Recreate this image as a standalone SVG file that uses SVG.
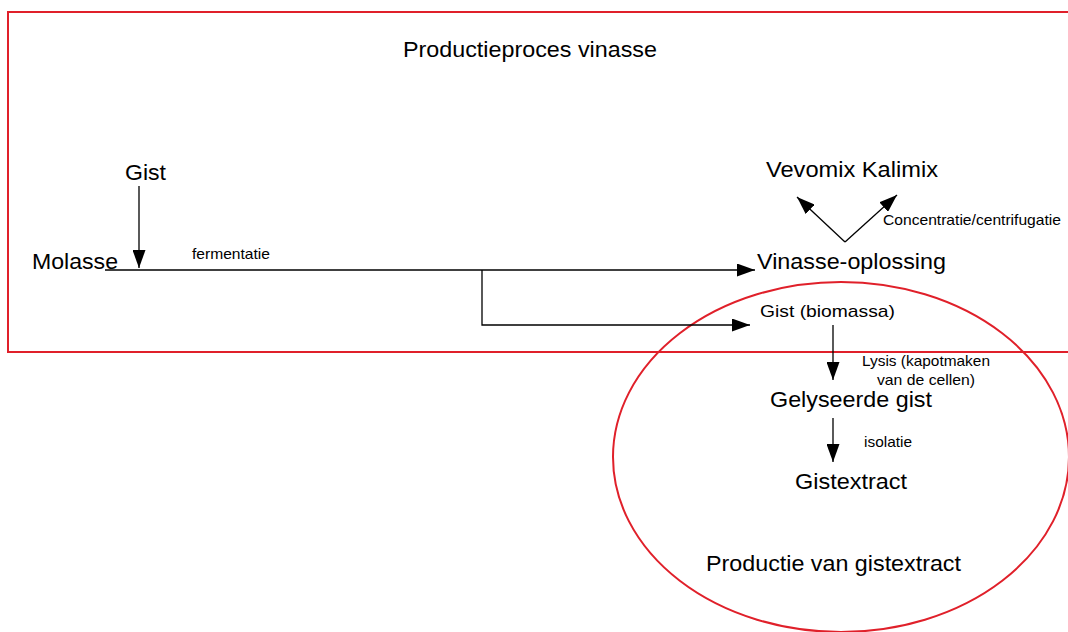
<svg xmlns="http://www.w3.org/2000/svg" width="1068" height="632" viewBox="0 0 1068 632">
<defs>
<marker id="ahb" viewBox="0 0 10 10" refX="10" refY="5" markerWidth="18" markerHeight="13" markerUnits="userSpaceOnUse" orient="auto" preserveAspectRatio="none">
<path d="M0,0 L10,5 L0,10 Z" fill="#000"/>
</marker>
</defs>
<style>
text{font-family:"Liberation Sans",Arial,sans-serif;fill:#000}
.l{font-size:22px}
.m{font-size:17px}
.s{font-size:14.5px}
.c{fill:none;stroke:#000;stroke-width:1.3}
.f{fill:none;stroke:#e0202a;stroke-width:2}
</style>
<rect width="1068" height="632" fill="#fff"/>
<g id="frames">
<rect class="f" x="8" y="12" width="1080" height="340"/>
<ellipse class="f" cx="841" cy="457" rx="228" ry="175"/>
</g>
<g id="titles">
<text x="403" y="57" class="l" textLength="254" lengthAdjust="spacingAndGlyphs">Productieproces vinasse</text>
<text x="706" y="571" class="l" textLength="255" lengthAdjust="spacingAndGlyphs">Productie van gistextract</text>
</g>
<g id="connectors">
<path class="c" d="M105,270 H755" marker-end="url(#ahb)"/>
<path class="c" d="M139,186 V268" marker-end="url(#ahb)"/>
<path class="c" d="M482,270 V325 H750" marker-end="url(#ahb)"/>
<path class="c" d="M845,242 L797,197" marker-end="url(#ahb)"/>
<path class="c" d="M845,242 L897,195" marker-end="url(#ahb)"/>
<path class="c" d="M833,325 V380" marker-end="url(#ahb)"/>
<path class="c" d="M833,418 V462" marker-end="url(#ahb)"/>
</g>
<g id="labels">
<text x="192" y="259" class="s" textLength="78" lengthAdjust="spacingAndGlyphs">fermentatie</text>
<text x="883" y="225" class="s" textLength="178" lengthAdjust="spacingAndGlyphs">Concentratie/centrifugatie</text>
<text x="862" y="366" class="s" textLength="128" lengthAdjust="spacingAndGlyphs">Lysis (kapotmaken</text>
<text x="877" y="385" class="s" textLength="98" lengthAdjust="spacingAndGlyphs">van de cellen)</text>
<text x="864" y="447" class="s" textLength="48" lengthAdjust="spacingAndGlyphs">isolatie</text>
</g>
<g id="n-gist"><text x="125" y="180" class="l" textLength="41" lengthAdjust="spacingAndGlyphs">Gist</text></g>
<g id="n-molasse"><text x="32" y="269" class="l" textLength="86" lengthAdjust="spacingAndGlyphs">Molasse</text></g>
<g id="n-vinasse"><text x="757" y="269" class="l" textLength="189" lengthAdjust="spacingAndGlyphs">Vinasse-oplossing</text></g>
<g id="n-vevomix"><text x="766" y="177" class="l" textLength="172" lengthAdjust="spacingAndGlyphs">Vevomix Kalimix</text></g>
<g id="n-biomassa"><text x="760" y="317" class="m" textLength="135" lengthAdjust="spacingAndGlyphs">Gist (biomassa)</text></g>
<g id="n-gelyseerd"><text x="770" y="407" class="l" textLength="162" lengthAdjust="spacingAndGlyphs">Gelyseerde gist</text></g>
<g id="n-gistextract"><text x="795" y="489" class="l" textLength="112" lengthAdjust="spacingAndGlyphs">Gistextract</text></g>
</svg>
